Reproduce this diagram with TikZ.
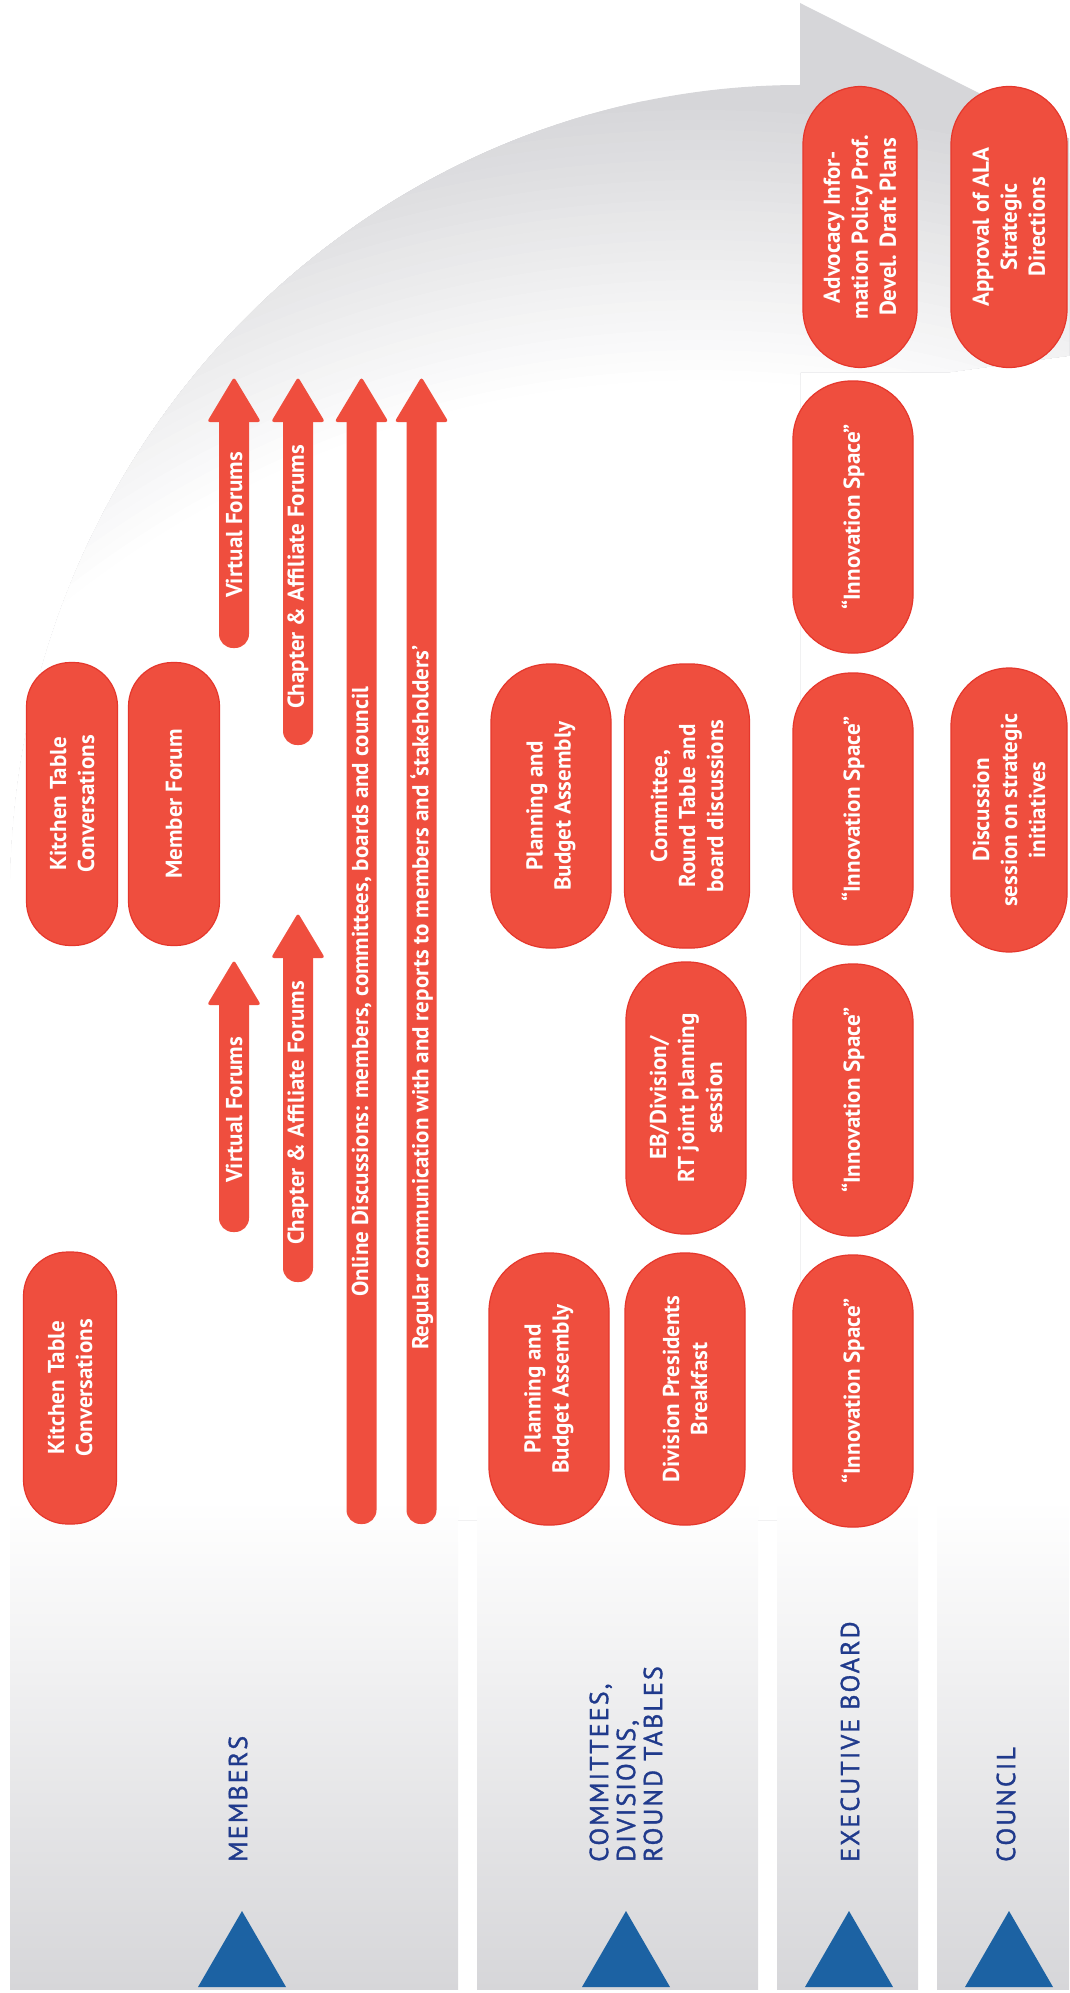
\documentclass[tikz,border=0pt]{standalone}
\usepackage{fontspec}
\setmainfont{PT Sans}
\newfontfamily\labelfont[LetterSpace=8,FakeBold=1.2]{PT Sans}

\definecolor{pillred}{RGB}{239,78,62}
\definecolor{pilledge}{RGB}{229,55,44}
\definecolor{triblue}{RGB}{28,98,163}
\definecolor{labelblue}{RGB}{32,58,140}
\definecolor{bandgray}{RGB}{214,214,217}

% arrow: x, tail, tip
\newcommand{\flowarrow}[3]{%
  \fill[pillred, rounded corners=14] ({#1-15},{#3+30}) rectangle ({#1+15},#2);
  \fill[pillred, rounded corners=3] ({#1-27},{#3+45}) -- (#1,#3) -- ({#1+27},{#3+45}) -- cycle;
}

\begin{document}
\begin{tikzpicture}[x=1pt, y=-1pt,
  pill/.style={draw=pilledge, fill=pillred, line width=1.2pt, rotate=90,
    text=white, align=center, inner sep=0pt,
    font=\fontsize{23}{28}\selectfont\bfseries,
    minimum width=272, minimum height=120, rounded corners=58},
  thinpill/.style={pill, minimum height=91, rounded corners=44},
  arrowtext/.style={rotate=90, text=white, inner sep=0pt,
    font=\fontsize{23}{28}\selectfont\bfseries},
  bandlabel/.style={rotate=90, anchor=west, inner sep=0pt, align=left,
    text=labelblue, font=\labelfont\fontsize{26}{27}\selectfont}]
  \useasboundingbox (0,0) rectangle (1069,1993);
  \begin{scope}
    \clip (0,0) rectangle (1069,1993);

    % big curved arrow
    \begin{scope}
      \clip (10,1520) -- (10,900) .. controls (10,430) and (380,85) .. (800,85)
        -- (800,3) -- (1408,309) -- (950,372) -- (800,372) -- (800,1520) -- cycle;
      \fill[bandgray] (700,1400) circle (1450);
      \foreach \i in {0,...,28} {
        \pgfmathtruncatemacro\shadepct{100-\i*100/28}
        \fill[bandgray!\shadepct] (700,1400) circle ({1300-10*\i});
      }
    \end{scope}

    % bands
    \foreach \xa/\xb in {10/458, 477/758, 777/918, 937/1069}
      \shade[top color=white, bottom color=bandgray] (\xa,1500) rectangle (\xb,1989);
    \foreach \xc in {242,626,849,1009}
      \fill[triblue] ({\xc-44},1987) -- (\xc,1911) -- ({\xc+44},1987) -- cycle;

    \node[bandlabel] (members) at (238,1862) {MEMBERS};
    \node[bandlabel] (committees) at (626,1862) {COMMITTEES,\\DIVISIONS,\\ROUND TABLES};
    \node[bandlabel] (executive) at (850,1862) {EXECUTIVE BOARD};
    \node[bandlabel] (council) at (1006,1862) {COUNCIL};

    % arrows
    \flowarrow{234}{1232}{960}
    \flowarrow{298}{1282}{913}
    \flowarrow{234}{648}{377}
    \flowarrow{298}{745}{377}
    \flowarrow{361.5}{1524}{377}
    \flowarrow{421.5}{1524}{377}
    \node[arrowtext] (virtualA) at (234,1110) {Virtual Forums};
    \node[arrowtext] (chapterA) at (298,1113) {Chapter \& Affiliate Forums};
    \node[arrowtext] (virtualB) at (234,525) {Virtual Forums};
    \node[arrowtext] (chapterB) at (298,577) {Chapter \& Affiliate Forums};
    \node[arrowtext, anchor=west] (online) at (361.5,1297)
      {Online Discussions: members, committees, boards and council};
    \node[arrowtext, anchor=west] (regular) at (421.5,1350)
      {Regular communication with and reports to members and ‘stakeholders’};

    % members
    \node[thinpill, minimum height=93] (kitchenA) at (70,1388) {Kitchen Table\\Conversations};
    \node[thinpill, minimum width=283] (kitchenB) at (72,804) {Kitchen Table\\Conversations};
    \node[thinpill, minimum width=283] (memberforum) at (174,804) {Member Forum};

    % committees, divisions, round tables
    \node[pill] (planningA) at (549,1389) {Planning and\\Budget Assembly};
    \node[pill] (divpres) at (685,1389) {Division Presidents\\Breakfast};
    \node[pill] (ebjoint) at (686,1098) {EB/Division/\\RT joint planning\\session};
    \node[pill, minimum width=284] (planningB) at (551,806) {Planning and\\Budget Assembly};
    \node[pill, minimum width=284, minimum height=125] (committee) at (687,806)
      {Committee,\\Round Table and\\board discussions};

    % executive board
    \foreach \y/\n in {1391/A, 1100/B, 809/C, 517/D}
      \node[pill] (innovation\n) at (853,\y) {“Innovation Space”};
    \node[pill, minimum width=281, minimum height=114] (advocacy) at (860,227)
      {Advocacy Infor-\\mation Policy Prof.\\Devel. Draft Plans};

    % council
    \node[pill, minimum width=281, minimum height=116] (approval) at (1009,227)
      {Approval of ALA\\Strategic\\Directions};
    \node[pill, minimum width=284, minimum height=116] (discussion) at (1009,810)
      {Discussion\\session on strategic\\initiatives};
  \end{scope}
\end{tikzpicture}
\end{document}
